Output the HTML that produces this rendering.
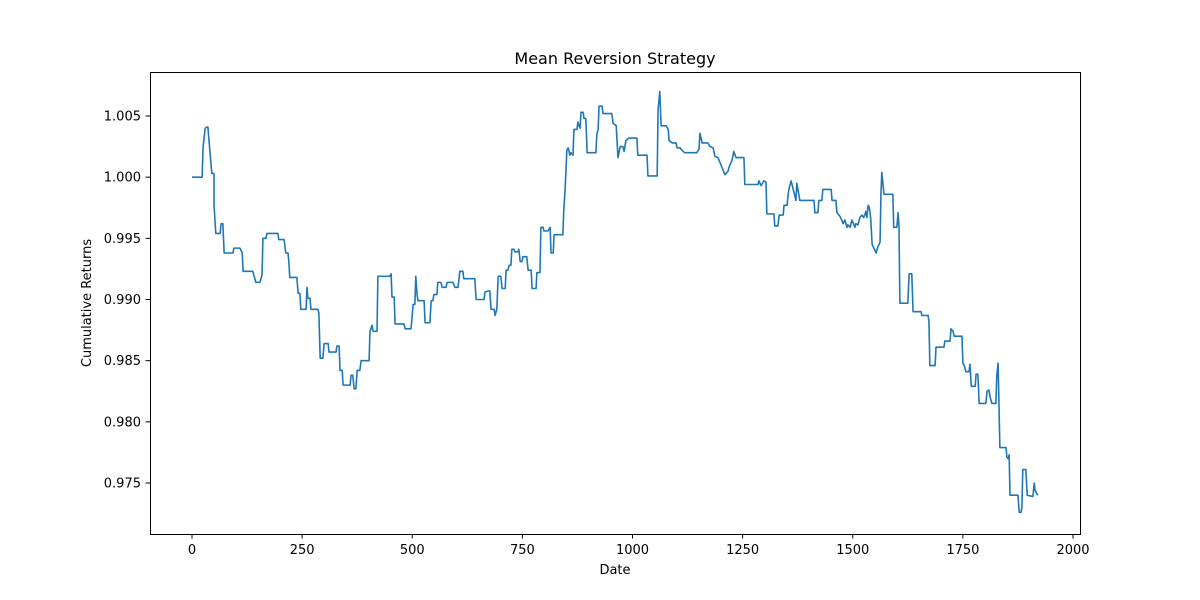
<!DOCTYPE html>
<html><head><meta charset="utf-8"><title>Mean Reversion Strategy</title>
<style>
html,body{margin:0;padding:0;background:#fff;}
svg{display:block;font-family:"DejaVu Sans","Liberation Sans",sans-serif;}
</style></head>
<body>
<svg id="chart" width="1200" height="600" viewBox="0 0 1200 600" xmlns="http://www.w3.org/2000/svg">
<rect x="0" y="0" width="1200" height="600" fill="#fff"/>
<text x="615" y="64" font-size="16" text-anchor="middle" fill="#000">Mean Reversion Strategy</text>
<g id="xticks"></g>
<g id="yticks"></g>
<polyline id="line" fill="none" stroke="#1f77b4" stroke-width="1.6" stroke-linejoin="round"/>
<rect x="150.5" y="72.5" width="930" height="462" fill="none" stroke="#000" stroke-width="1"/>
<text x="615" y="574" font-size="13" text-anchor="middle">Date</text>
<text transform="translate(91,303) rotate(-90)" font-size="13" text-anchor="middle">Cumulative Returns</text>
</svg>
<script>
const xTickValues = [0,250,500,750,1000,1250,1500,1750,2000];
const yTickValues = [0.975,0.980,0.985,0.990,0.995,1.000,1.005];
const dates = [0,23,25,30,34,36,45,50,50,54,64,66,70,73,93,95,109,114,116,138,145,154,159,161,168,170,195,197,209,213,218,220,222,238,241,245,247,259,261,263,268,270,286,288,291,297,300,309,311,327,329,334,336,341,343,359,361,365,368,372,375,381,384,402,404,409,411,420,422,427,449,452,454,459,461,481,484,497,499,502,506,508,511,513,527,529,540,543,547,549,556,558,565,568,577,579,592,597,604,608,615,617,631,633,642,645,663,665,672,676,679,686,688,692,695,701,704,711,713,717,720,724,726,731,733,740,742,745,749,751,760,763,770,772,781,783,790,792,797,799,808,813,815,820,822,826,829,842,844,847,851,854,858,860,865,867,874,876,881,883,888,890,894,897,917,919,922,924,931,933,953,956,963,967,972,978,981,985,992,1010,1012,1017,1033,1035,1056,1058,1062,1065,1076,1081,1083,1090,1099,1101,1108,1115,1119,1146,1151,1153,1158,1171,1176,1183,1187,1194,1203,1210,1217,1219,1226,1230,1235,1253,1255,1285,1287,1292,1298,1303,1305,1321,1323,1330,1333,1342,1344,1351,1353,1355,1360,1367,1371,1373,1380,1382,1412,1414,1421,1423,1430,1432,1451,1453,1462,1464,1471,1476,1478,1482,1487,1489,1494,1498,1505,1507,1512,1516,1521,1525,1530,1532,1535,1537,1539,1541,1544,1553,1557,1562,1564,1566,1569,1571,1591,1593,1600,1603,1605,1607,1625,1628,1634,1637,1655,1657,1671,1673,1675,1687,1689,1707,1709,1721,1723,1728,1730,1748,1750,1753,1757,1764,1766,1769,1778,1780,1784,1787,1802,1805,1809,1812,1816,1825,1827,1830,1832,1834,1848,1850,1853,1855,1857,1875,1878,1882,1884,1886,1893,1896,1909,1912,1914,1918,1920];
const values = [1.0000,1.0000,1.0024,1.0040,1.0041,1.0041,1.0003,1.0003,0.9977,0.9954,0.9954,0.9962,0.9962,0.9938,0.9938,0.9942,0.9942,0.9938,0.9923,0.9923,0.9914,0.9914,0.9920,0.9950,0.9950,0.9954,0.9954,0.9949,0.9949,0.9938,0.9938,0.9930,0.9918,0.9918,0.9905,0.9905,0.9892,0.9892,0.9910,0.9901,0.9901,0.9892,0.9892,0.9889,0.9852,0.9852,0.9864,0.9864,0.9857,0.9857,0.9862,0.9862,0.9842,0.9842,0.9830,0.9830,0.9838,0.9838,0.9827,0.9827,0.9842,0.9842,0.9850,0.9850,0.9874,0.9879,0.9874,0.9874,0.9919,0.9919,0.9919,0.9921,0.9902,0.9902,0.9880,0.9880,0.9876,0.9876,0.9883,0.9896,0.9896,0.9919,0.9904,0.9899,0.9899,0.9881,0.9881,0.9899,0.9899,0.9904,0.9904,0.9914,0.9914,0.9910,0.9910,0.9914,0.9914,0.9910,0.9910,0.9923,0.9923,0.9917,0.9917,0.9917,0.9917,0.9900,0.9900,0.9906,0.9907,0.9907,0.9892,0.9892,0.9887,0.9892,0.9919,0.9919,0.9909,0.9909,0.9924,0.9924,0.9928,0.9928,0.9941,0.9941,0.9939,0.9939,0.9941,0.9931,0.9931,0.9935,0.9935,0.9924,0.9924,0.9909,0.9909,0.9922,0.9922,0.9959,0.9959,0.9956,0.9956,0.9959,0.9938,0.9938,0.9953,0.9953,0.9953,0.9953,0.9973,0.9990,1.0022,1.0024,1.0018,1.0020,1.0018,1.0039,1.0039,1.0045,1.0040,1.0053,1.0053,1.0048,1.0048,1.0020,1.0020,1.0035,1.0039,1.0058,1.0058,1.0052,1.0052,1.0044,1.0042,1.0016,1.0025,1.0025,1.0021,1.0030,1.0032,1.0032,1.0018,1.0018,1.0018,1.0001,1.0001,1.0055,1.0070,1.0042,1.0042,1.0039,1.0030,1.0028,1.0028,1.0024,1.0024,1.0021,1.0020,1.0020,1.0023,1.0036,1.0028,1.0028,1.0025,1.0024,1.0017,1.0016,1.0008,1.0002,1.0005,1.0008,1.0014,1.0021,1.0016,1.0016,0.9994,0.9994,0.9997,0.9993,0.9997,0.9996,0.9970,0.9970,0.9960,0.9960,0.9969,0.9969,0.9977,0.9977,0.9985,0.9990,0.9997,0.9987,0.9981,0.9995,0.9981,0.9981,0.9981,0.9971,0.9971,0.9981,0.9981,0.9990,0.9990,0.9981,0.9981,0.9971,0.9968,0.9964,0.9962,0.9965,0.9959,0.9961,0.9959,0.9965,0.9959,0.9962,0.9961,0.9967,0.9969,0.9967,0.9972,0.9967,0.9977,0.9976,0.9972,0.9965,0.9945,0.9938,0.9943,0.9947,0.9986,1.0004,0.9993,0.9986,0.9986,0.9959,0.9959,0.9971,0.9959,0.9897,0.9897,0.9921,0.9921,0.9890,0.9890,0.9887,0.9887,0.9882,0.9846,0.9846,0.9861,0.9861,0.9866,0.9866,0.9876,0.9874,0.9870,0.9870,0.9848,0.9846,0.9841,0.9841,0.9847,0.9829,0.9829,0.9839,0.9839,0.9815,0.9815,0.9825,0.9826,0.9820,0.9815,0.9815,0.9838,0.9848,0.9813,0.9779,0.9779,0.9771,0.9770,0.9773,0.9740,0.9740,0.9726,0.9726,0.9730,0.9761,0.9761,0.9740,0.9739,0.9750,0.9744,0.9741,0.9740];

function xScale(d){ return 192 + d * (881 / 2000); }
function yScale(v){ return 116 + (1.005 - v) * (367 / 0.03); }

const NS = "http://www.w3.org/2000/svg";
const xg = document.getElementById('xticks');
xTickValues.forEach(function(t){
  const x = xScale(t);
  const ln = document.createElementNS(NS,'line');
  
  
  ln.setAttribute('x1', x); ln.setAttribute('x2', x);
  ln.setAttribute('y1', 534); ln.setAttribute('y2', 538.5);
  ln.setAttribute('stroke', '#000');
  xg.appendChild(ln);
  const tx = document.createElementNS(NS,'text');
  
  
  tx.setAttribute('x', x); tx.setAttribute('y', 554);
  tx.setAttribute('font-size', '13'); tx.setAttribute('text-anchor', 'middle');
  tx.textContent = String(t);
  xg.appendChild(tx);
});
const yg = document.getElementById('yticks');
yTickValues.forEach(function(t){
  const y = yScale(t);
  const ln = document.createElementNS(NS,'line');
  
  
  ln.setAttribute('x1', 145.5); ln.setAttribute('x2', 150);
  ln.setAttribute('y1', y); ln.setAttribute('y2', y);
  ln.setAttribute('stroke', '#000');
  yg.appendChild(ln);
  const tx = document.createElementNS(NS,'text');
  
  
  tx.setAttribute('x', 141); tx.setAttribute('y', y + 4.5);
  tx.setAttribute('font-size', '13'); tx.setAttribute('text-anchor', 'end');
  tx.textContent = t.toFixed(3);
  yg.appendChild(tx);
});
const pts = dates.map(function(d,i){ return xScale(d).toFixed(2) + ',' + yScale(values[i]).toFixed(2); });
document.getElementById('line').setAttribute('points', pts.join(' '));
</script>
</body></html>
